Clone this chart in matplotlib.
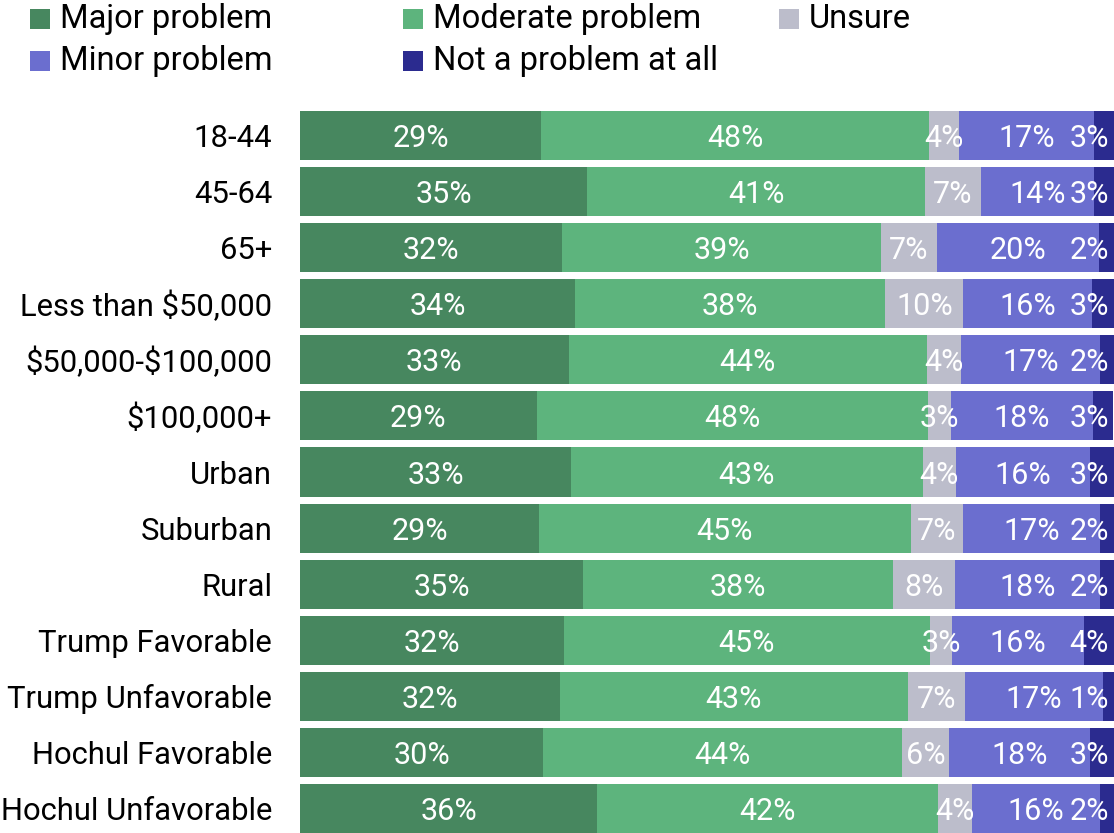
import matplotlib
matplotlib.use("Agg")
import matplotlib.pyplot as plt
from matplotlib.patches import Rectangle

plt.rcParams['font.family'] = ['Roboto', 'DejaVu Sans']

groups = ["18-44", "45-64", "65+", "Less than \\$50,000", "\\$50,000-\\$100,000",
          "\\$100,000+", "Urban", "Suburban", "Rural", "Trump Favorable",
          "Trump Unfavorable", "Hochul Favorable", "Hochul Unfavorable"]

series = ["Major problem", "Moderate problem", "Unsure", "Minor problem",
          "Not a problem at all"]
colors = ["#47875f", "#5db47d", "#bcbdcb", "#6b6ecf", "#2b2b8f"]

# bar lengths (share of respondents)
major    = [29.6, 35.3, 32.2, 33.8, 33.0, 29.1, 33.3, 29.4, 34.8, 32.4, 31.9, 29.9, 36.5]
moderate = [47.7, 41.5, 39.2, 38.1, 44.0, 48.0, 43.2, 45.6, 38.0, 45.0, 42.8, 44.1, 41.9]
unsure   = [3.7, 6.8, 6.8, 9.6, 4.2, 2.9, 4.1, 6.5, 7.7, 2.7, 7.0, 5.7, 4.1]
minor    = [16.6, 14.0, 19.9, 15.8, 17.1, 17.4, 16.5, 16.8, 17.8, 16.2, 17.0, 17.4, 15.8]
notprob  = [2.5, 2.5, 2.0, 2.7, 1.7, 2.5, 2.9, 1.7, 1.7, 3.7, 1.4, 2.9, 1.7]

# printed labels
major_lbl    = [29, 35, 32, 34, 33, 29, 33, 29, 35, 32, 32, 30, 36]
moderate_lbl = [48, 41, 39, 38, 44, 48, 43, 45, 38, 45, 43, 44, 42]
unsure_lbl   = [4, 7, 7, 10, 4, 3, 4, 7, 8, 3, 7, 6, 4]
minor_lbl    = [17, 14, 20, 16, 17, 18, 16, 17, 18, 16, 17, 18, 16]
notprob_lbl  = [3, 3, 2, 3, 2, 3, 3, 2, 2, 4, 1, 3, 2]

values = [major, moderate, unsure, minor, notprob]
labels = [major_lbl, moderate_lbl, unsure_lbl, minor_lbl, notprob_lbl]

W, H = 1114, 833
fig = plt.figure(figsize=(W / 100, H / 100), dpi=100)
ax = fig.add_axes([300 / W, 0, 1 - 300 / W, 1 - 111 / H])

bh = 0.875
ypos = list(range(len(groups)))
left = [0.0] * len(groups)
pct_texts = []
for vals, lbls, col in zip(values, labels, colors):
    ax.barh(ypos, vals, left=left, height=bh, color=col, linewidth=0)
    for i, (v, l) in enumerate(zip(vals, lbls)):
        t = ax.text(left[i] + v / 2, i, f"{l}%", ha="center", va="center_baseline",
                    color="white", fontsize=22)
        pct_texts.append(t)
    left = [a + b for a, b in zip(left, vals)]

ax.set_xlim(0, 100)
ax.set_ylim(len(groups) - 1 + bh / 2, -bh / 2)
ax.set_yticks(ypos)
ax.set_yticklabels(groups, fontsize=22.3)
ax.tick_params(axis="y", length=0, pad=20)
ax.set_xticks([])
for s in ax.spines.values():
    s.set_visible(False)

# keep labels inside the right edge of the chart
fig.canvas.draw()
r = fig.canvas.get_renderer()
edge = ax.transData.transform((100, 0))[0] - 5
for t in pct_texts:
    bb = t.get_window_extent(r)
    if bb.x1 > edge:
        t.set_ha("right")
        x = ax.transData.inverted().transform((edge, 0))[0]
        t.set_x(x)

# legend, laid out as in the original (two rows, uneven columns)
leg_pos = [(30, 19), (403, 19), (779, 19), (30, 61), (403, 61)]
for name, col, (x, y) in zip(series, colors, leg_pos):
    fig.add_artist(Rectangle((x / W, 1 - (y + 10) / H), 20 / W, 20 / H,
                             transform=fig.transFigure, color=col, lw=0))
    fig.text((x + 30) / W, 1 - y / H, name, ha="left", va="center", fontsize=23.5)

fig.savefig("out.png", dpi=100)
